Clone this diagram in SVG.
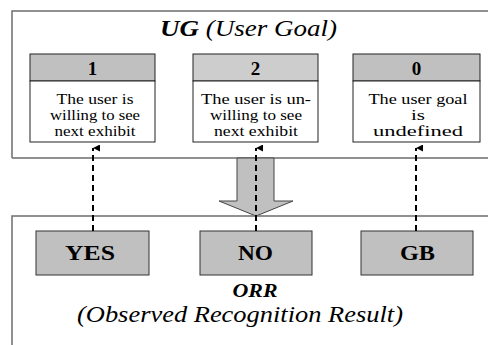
<svg xmlns="http://www.w3.org/2000/svg" width="488" height="345" viewBox="0 0 488 345">
<style>
  text { font-family: "Liberation Serif", "Times New Roman", serif; fill: #000; }
  .frame { fill: none; stroke: #6e6e6e; stroke-width: 1.5; }
  .hdr { fill: #c0c0c0; stroke: #222; stroke-width: 1; }
  .hdr2 { fill: #cdcdcd; stroke: #222; stroke-width: 1; }
  .body { fill: #fff; stroke: #222; stroke-width: 1; }
  .num { font-size: 19px; font-weight: bold; text-anchor: middle; }
  .desc { font-size: 14.5px; text-anchor: middle; }
  .obs { fill: #c0c0c0; stroke: #333; stroke-width: 1; }
  .lbl { font-size: 20px; font-weight: bold; text-anchor: middle; }
  .dash { stroke: #000; stroke-width: 2; stroke-dasharray: 6 4; fill: none; }
</style>
<defs>
  <marker id="ah" viewBox="0 0 10 10" refX="5" refY="0" markerWidth="7" markerHeight="7" markerUnits="userSpaceOnUse" orient="auto-start-reverse">
    <path d="M0,10 L5,0 L10,10 Z" fill="#000"/>
  </marker>
</defs>

<g id="ug-frame">
  <path class="frame" d="M12,158 L12,11 L490,11 M12,158 L490,158"/>
  <text x="248.5" y="36" font-size="23" font-style="italic" text-anchor="middle" textLength="177" lengthAdjust="spacingAndGlyphs"><tspan font-weight="bold">UG</tspan> (User Goal)</text>
</g>

<g id="ug1">
  <rect class="hdr" x="30" y="54" width="125" height="27"/>
  <rect class="body" x="30" y="81" width="125" height="61"/>
  <text class="num" x="92.5" y="74.5">1</text>
  <text class="desc" x="95" y="104" textLength="77" lengthAdjust="spacingAndGlyphs">The user is</text>
  <text class="desc" x="95" y="120" textLength="90" lengthAdjust="spacingAndGlyphs">willing to see</text>
  <text class="desc" x="95" y="136" textLength="81" lengthAdjust="spacingAndGlyphs">next exhibit</text>
</g>

<g id="ug2">
  <rect class="hdr2" x="193" y="54" width="125" height="27"/>
  <rect class="body" x="193" y="81" width="125" height="61"/>
  <text class="num" x="255.5" y="74.5">2</text>
  <text class="desc" x="256" y="104" textLength="110" lengthAdjust="spacingAndGlyphs">The user is un-</text>
  <text class="desc" x="256" y="120" textLength="92" lengthAdjust="spacingAndGlyphs">willing to see</text>
  <text class="desc" x="256" y="136" textLength="84" lengthAdjust="spacingAndGlyphs">next exhibit</text>
</g>

<g id="ug0">
  <rect class="hdr" x="353" y="54" width="127" height="27"/>
  <rect class="body" x="353" y="81" width="127" height="61"/>
  <text class="num" x="416.5" y="74.5">0</text>
  <text class="desc" x="418" y="104" textLength="99" lengthAdjust="spacingAndGlyphs">The user goal</text>
  <text class="desc" x="418" y="120" textLength="14" lengthAdjust="spacingAndGlyphs">is</text>
  <text class="desc" x="418" y="136" textLength="90" lengthAdjust="spacingAndGlyphs">undefined</text>
</g>

<g id="block-arrow">
  <path d="M237,158 L274,158 L274,201 L293,201 L256,216 L219,201 L237,201 Z" fill="#c0c0c0" stroke="#444" stroke-width="1"/>
</g>

<g id="orr-frame">
  <path class="frame" d="M12,345 L12,216 L490,216"/>
  <text x="255" y="297" font-size="19" font-weight="bold" font-style="italic" text-anchor="middle" textLength="45" lengthAdjust="spacingAndGlyphs">ORR</text>
  <text x="240" y="322" font-size="24" font-style="italic" text-anchor="middle" textLength="326" lengthAdjust="spacingAndGlyphs">(Observed Recognition Result)</text>
</g>

<g id="yes">
  <rect class="obs" x="36" y="231" width="113" height="44"/>
  <text class="lbl" x="90" y="260" textLength="50" lengthAdjust="spacingAndGlyphs">YES</text>
</g>
<g id="no">
  <rect class="obs" x="200" y="231" width="112" height="44"/>
  <text class="lbl" x="255.5" y="260" textLength="35" lengthAdjust="spacingAndGlyphs">NO</text>
</g>
<g id="gb">
  <rect class="obs" x="361" y="231" width="112" height="44"/>
  <text class="lbl" x="417.5" y="260" textLength="35" lengthAdjust="spacingAndGlyphs">GB</text>
</g>

<g id="connectors">
  <line class="dash" x1="93" y1="231" x2="93" y2="148" marker-end="url(#ah)"/>
  <line class="dash" x1="256" y1="231" x2="256" y2="148" marker-end="url(#ah)"/>
  <line class="dash" x1="416" y1="231" x2="416" y2="148" marker-end="url(#ah)"/>
</g>
</svg>
